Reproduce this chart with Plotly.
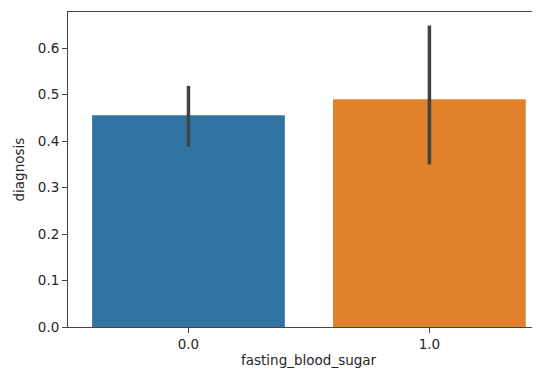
import plotly.graph_objects as go

categories = ["0.0", "1.0"]
means = [0.456, 0.490]
ci_low = [0.388, 0.350]
ci_high = [0.519, 0.649]
colors = ["#3274a1", "#e1812c"]
x_label = "fasting_blood_sugar"
y_label = "diagnosis"
y_ticks = [0.0, 0.1, 0.2, 0.3, 0.4, 0.5, 0.6]

xpos = list(range(len(categories)))

fig = go.Figure()
fig.add_trace(go.Bar(
    x=xpos, y=means, width=0.8,
    marker=dict(color=colors, line=dict(width=0)),
    error_y=dict(type="data", symmetric=False,
                 array=[h - m for h, m in zip(ci_high, means)],
                 arrayminus=[m - l for m, l in zip(means, ci_low)],
                 color="#424242", thickness=3.5, width=0),
    showlegend=False,
))

# page body has an 8px margin; figure is sized so it ends at the window edge
font = dict(family="DejaVu Sans", size=13.5, color="#262626")
fig.update_layout(
    width=532, height=363,
    margin=dict(l=60, r=0, t=4, b=44, autoexpand=False),
    plot_bgcolor="white", paper_bgcolor="white",
    font=font,
    xaxis=dict(range=[-0.5, 1.459], tickmode="array", tickvals=xpos, ticktext=categories,
               showgrid=False, zeroline=False, showline=True, mirror=True,
               linecolor="#444444", linewidth=1, ticks="outside", ticklen=5,
               tickcolor="#444444", tickfont=font, automargin=False),
    yaxis=dict(range=[0, 0.678], tickmode="array", tickvals=y_ticks,
               ticktext=[f"{v:.1f}" for v in y_ticks],
               showgrid=False, zeroline=False, showline=True, mirror=False,
               linecolor="#444444", linewidth=1, ticks="outside", ticklen=5,
               tickcolor="#444444", tickfont=font, automargin=False),
    annotations=[
        dict(text=x_label, xref="paper", yref="paper",
             x=(308.8 - 68) / 472, y=-(370 - 327) / 315,
             xanchor="center", yanchor="bottom", showarrow=False, font=font),
        dict(text=y_label, xref="paper", yref="paper",
             x=-(68 - 18) / 472, y=0.5, textangle=-90,
             xanchor="center", yanchor="middle", showarrow=False, font=font),
    ],
)

fig.write_html("out.html")
